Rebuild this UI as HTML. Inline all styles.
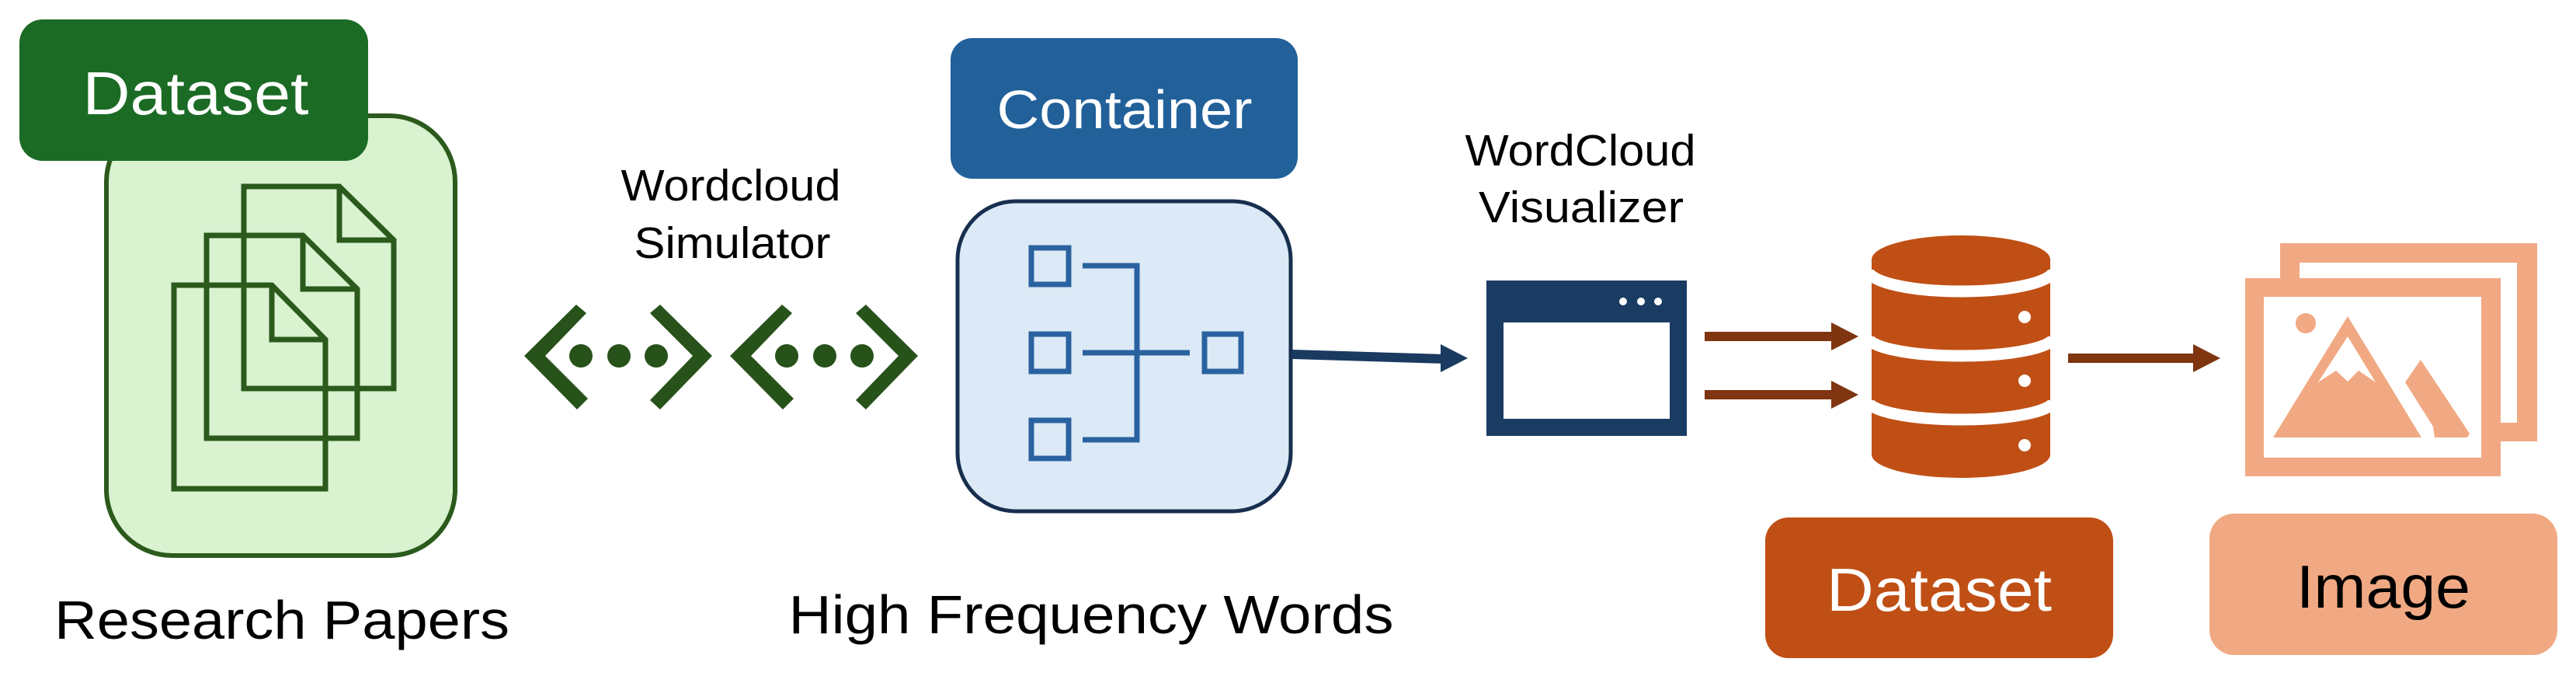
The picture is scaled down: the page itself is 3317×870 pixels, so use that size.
<!DOCTYPE html>
<html><head><meta charset="utf-8"><style>
html,body{margin:0;padding:0;background:#fff;}
svg{display:block;}
text{font-family:"Liberation Sans",sans-serif;}
</style></head><body>
<svg width="3317" height="870" viewBox="0 0 3317 870" xmlns="http://www.w3.org/2000/svg">
<!-- Research papers -->
<rect x="137" y="149" width="449" height="566" rx="85" fill="#d9f2d0" stroke="#2b5a1c" stroke-width="6"/>
<rect x="25" y="25" width="449" height="182" rx="30" fill="#1b6b25"/>
<text x="252" y="147" font-size="78" fill="#fff" text-anchor="middle" textLength="291" lengthAdjust="spacingAndGlyphs">Dataset</text>
<g fill="none" stroke="#2b5a1c" stroke-width="7">
<path d="M314 240 H437 L507 309 V500 H314 Z M437 240 V309 H507"/>
<path d="M266 303 H390 L460 372 V564 H266 Z M390 303 V372 H460"/>
<path d="M224 367 H350 L419 437 V629 H224 Z M350 367 V437 H419"/>
</g>
<text x="363" y="822" font-size="70" fill="#000" text-anchor="middle" textLength="586" lengthAdjust="spacingAndGlyphs">Research Papers</text>
<!-- simulator -->
<text x="941" y="258" font-size="57" fill="#000" text-anchor="middle" textLength="283" lengthAdjust="spacingAndGlyphs">Wordcloud</text>
<text x="943" y="332" font-size="57" fill="#000" text-anchor="middle" textLength="253" lengthAdjust="spacingAndGlyphs">Simulator</text>
<g fill="#27521a" id="chev">
<polygon points="675,458 742,392 755,403 702,458 757,513 743,527"/>
<polygon points="917,458 850,392 837,403 892,458 837,515 850,527"/>
<circle cx="748" cy="458" r="15"/><circle cx="797" cy="458" r="15"/><circle cx="845" cy="458" r="15"/>
</g>
<use href="#chev" transform="translate(265,0)"/>
<!-- container -->
<rect x="1224" y="49" width="447" height="181" rx="28" fill="#22609a"/>
<text x="1448" y="165" font-size="70" fill="#fff" text-anchor="middle" textLength="329" lengthAdjust="spacingAndGlyphs">Container</text>
<rect x="1233" y="259" width="429" height="399" rx="75" fill="#dce9f6" stroke="#172f4f" stroke-width="5"/>
<g fill="none" stroke="#2a62a0" stroke-width="7">
<rect x="1328" y="319" width="48" height="47"/>
<rect x="1328" y="430" width="48" height="48"/>
<rect x="1328" y="541" width="48" height="49"/>
<rect x="1551" y="430" width="47" height="48"/>
<path d="M1394 342 H1464 V566 H1394 M1394 454 H1532"/>
</g>
<text x="1405" y="815" font-size="70" fill="#000" text-anchor="middle" textLength="779" lengthAdjust="spacingAndGlyphs">High Frequency Words</text>
<!-- arrow to visualizer -->
<line x1="1664" y1="456" x2="1860" y2="462" stroke="#1a3a60" stroke-width="12"/>
<polygon points="1855,443 1890,461 1855,479" fill="#1a3a60"/>
<!-- visualizer -->
<text x="2035" y="213" font-size="57" fill="#000" text-anchor="middle" textLength="297" lengthAdjust="spacingAndGlyphs">WordCloud</text>
<text x="2036" y="286" font-size="57" fill="#000" text-anchor="middle" textLength="264" lengthAdjust="spacingAndGlyphs">Visualizer</text>
<rect x="1914" y="361" width="258" height="200" fill="#1a3c63"/>
<rect x="1936" y="415" width="214" height="124" fill="#fff"/>
<circle cx="2090" cy="388" r="5" fill="#fff"/><circle cx="2113" cy="388" r="5" fill="#fff"/><circle cx="2135" cy="388" r="5" fill="#fff"/>
<!-- brown arrows -->
<g fill="#7f3510">
<rect x="2195" y="427" width="165" height="12"/><polygon points="2358,415 2393,433 2358,451"/>
<rect x="2195" y="502" width="165" height="12"/><polygon points="2358,490 2393,508 2358,526"/>
<rect x="2663" y="455" width="163" height="12"/><polygon points="2824,443 2859,461 2824,479"/>
</g>
<!-- database -->
<path d="M2410 334 V585 A115 30 0 0 0 2640 585 V334 Z" fill="#c04f15"/>
<ellipse cx="2525" cy="334" rx="115" ry="31" fill="#c04f15"/>
<g fill="none" stroke="#fff" stroke-width="15">
<path d="M2405 347 A120 28 0 0 0 2645 347"/>
<path d="M2405 433 A120 25 0 0 0 2645 433"/>
<path d="M2405 515 A120 25 0 0 0 2645 515"/>
</g>
<circle cx="2607" cy="408" r="8" fill="#fff"/><circle cx="2607" cy="490" r="8" fill="#fff"/><circle cx="2607" cy="573" r="8" fill="#fff"/>
<rect x="2273" y="666" width="448" height="181" rx="30" fill="#c04f15"/>
<text x="2497" y="786" font-size="78" fill="#fff" text-anchor="middle" textLength="290" lengthAdjust="spacingAndGlyphs">Dataset</text>
<!-- image icon -->
<path d="M2936 313 H3267 V568 H3220 V544 H3241 V338 H2961 V358 H2936 Z" fill="#f1a983"/>
<path d="M2891 358 H3220 V613 H2891 Z M2915 382 V589 H3195 V382 Z" fill="#f1a983" fill-rule="evenodd"/>
<circle cx="2969" cy="416" r="13" fill="#f1a983"/>
<path d="M3023 407 L3118 563 H2927 Z M3023 433 L2985 492 L3008 477 L3023 491 L3037 477 L3059 492 Z" fill="#f1a983" fill-rule="evenodd"/>
<polygon points="3097,492 3117,463 3180,558 3177,563 3135,563 3133,549" fill="#f1a983"/>
<rect x="2845" y="661" width="448" height="182" rx="32" fill="#f1a983"/>
<text x="3069" y="782" font-size="78" fill="#000" text-anchor="middle" textLength="224" lengthAdjust="spacingAndGlyphs">Image</text>
</svg>
</body></html>
